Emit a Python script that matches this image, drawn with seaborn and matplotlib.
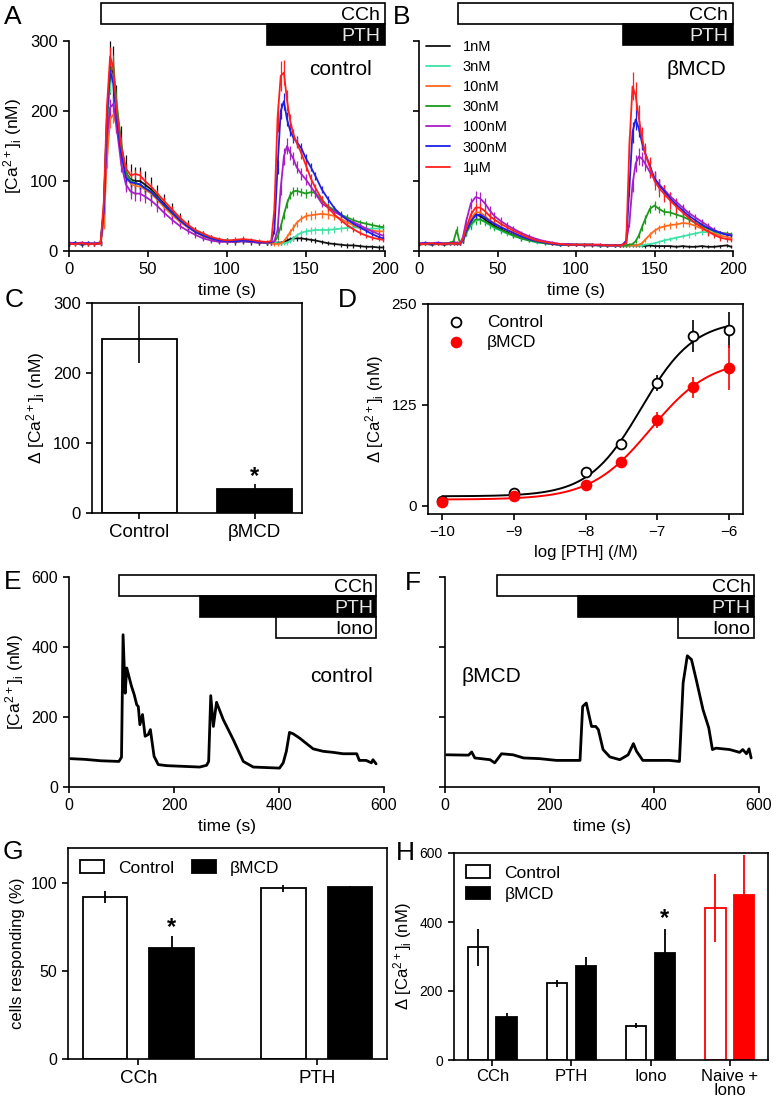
import numpy as np
import pandas as pd
import matplotlib
matplotlib.use('Agg')
import matplotlib.pyplot as plt
import matplotlib.transforms as mtransforms
from matplotlib.patches import Rectangle
import seaborn as sns

# ---------------- A / B : mean [Ca2+]i traces (nM) per PTH dose ----------------
time_ab = [0, 4, 8, 12, 16, 20, 22, 24,
           26, 28, 30, 33, 36, 39, 42, 45, 48, 52, 56, 60, 65, 70, 75, 80, 85, 90, 95, 100,
           105, 110, 115, 120, 125,
           128, 130, 132, 134, 136, 138, 140, 142, 144, 147, 150, 153, 156, 160, 164, 168, 172, 176, 180, 184, 188, 192, 196, 199]
doses = ['1nM', '3nM', '10nM', '30nM', '100nM', '300nM', '1µM']
dose_colors = ['#111111', '#3fe3a6', '#ff6a1f', '#1d9a1d', '#a81fc4', '#1f1fe6', '#ff1f1f']

# control (A)
a_1nM = [10, 11, 9, 10, 10, 12, 50, 170,
         262, 255, 205, 150, 112, 102, 100, 100, 95, 88, 78, 68, 56, 45, 36, 28, 22, 18, 15, 14,
         13, 14, 13, 12, 12,
         12, 12, 12, 12, 13, 15, 17, 18, 18, 18, 17, 16, 15, 13, 11, 10, 9, 8, 8, 7, 6, 6, 5, 5]
a_3nM = [11, 10, 11, 10, 11, 12, 55, 180,
         238, 248, 205, 150, 110, 100, 97, 95, 90, 84, 75, 65, 54, 44, 35, 28, 22, 18, 16, 15,
         14, 15, 14, 13, 12,
         12, 12, 11, 11, 11, 12, 14, 18, 22, 26, 28, 29, 30, 30, 30, 31, 32, 33, 34, 33, 32, 32, 32, 33]
a_10nM = [11, 10, 10, 11, 10, 10, 40, 130,
          188, 195, 180, 140, 108, 96, 93, 92, 88, 82, 73, 63, 52, 42, 34, 27, 21, 17, 15, 14,
          14, 15, 14, 13, 12,
          11, 10, 10, 11, 14, 20, 27, 33, 40, 46, 50, 51, 52, 53, 52, 50, 46, 41, 37, 33, 31, 29, 28, 28]
a_30nM = [10, 11, 10, 10, 11, 12, 60, 190,
          255, 268, 215, 155, 112, 100, 97, 95, 90, 85, 76, 66, 55, 45, 36, 28, 22, 18, 16, 15,
          14, 15, 14, 13, 12,
          12, 13, 20, 35, 52, 68, 80, 85, 86, 84, 82, 84, 83, 72, 64, 58, 52, 48, 44, 41, 39, 37, 35, 34]
a_100nM = [12, 11, 12, 11, 11, 12, 55, 160,
           205, 210, 180, 125, 95, 85, 82, 82, 78, 72, 64, 55, 45, 36, 29, 23, 18, 15, 13, 13,
           13, 14, 13, 12, 12,
           12, 14, 30, 90, 135, 150, 140, 132, 120, 110, 102, 92, 82, 68, 62, 56, 51, 45, 41, 37, 32, 28, 24, 22]
a_300nM = [10, 11, 10, 11, 10, 11, 60, 190,
           258, 240, 192, 140, 105, 98, 97, 95, 90, 84, 75, 66, 55, 44, 35, 27, 22, 18, 15, 14,
           14, 15, 14, 13, 12,
           13, 30, 120, 200, 214, 188, 172, 162, 156, 147, 132, 120, 107, 88, 74, 61, 52, 45, 39, 34, 29, 24, 20, 18]
a_1uM = [10, 10, 11, 10, 10, 11, 70, 205,
         278, 262, 205, 150, 118, 108, 110, 108, 100, 92, 82, 72, 60, 48, 38, 30, 25, 20, 17, 15,
         16, 17, 16, 14, 13,
         14, 60, 190, 250, 255, 215, 186, 167, 155, 140, 122, 104, 90, 74, 62, 52, 44, 37, 31, 26, 22, 19, 17, 16]

a_1nM_err = [3, 3, 3, 3, 3, 4, 15, 30,
             38, 38, 32, 28, 25, 22, 20, 20, 20, 18, 16, 14, 12, 10, 8, 7, 6, 5, 4, 4,
             4, 4, 4, 3, 3,
             3, 3, 3, 3, 3, 3, 3, 3, 3, 3, 3, 3, 3, 3, 3, 3, 3, 3, 3, 3, 3, 3, 3, 3]
a_3nM_err = [3, 3, 3, 3, 3, 3, 8, 12,
             12, 12, 10, 8, 6, 5, 5, 5, 5, 4, 4, 4, 3, 3, 3, 3, 3, 3, 3, 3,
             3, 3, 3, 3, 3,
             3, 3, 3, 3, 3, 3, 3, 3, 4, 4, 5, 5, 5, 5, 5, 5, 5, 5, 5, 4, 4, 4, 4, 4]
a_10nM_err = [3, 3, 3, 3, 3, 3, 8, 12,
              12, 12, 10, 8, 6, 5, 5, 5, 5, 4, 4, 4, 3, 3, 3, 3, 3, 3, 3, 3,
              3, 3, 3, 3, 3,
              3, 3, 3, 3, 3, 4, 4, 5, 5, 5, 6, 6, 6, 6, 6, 6, 5, 5, 5, 4, 4, 4, 4, 4]
a_30nM_err = [3, 3, 3, 3, 3, 3, 8, 12,
              12, 12, 10, 8, 6, 5, 5, 5, 5, 4, 4, 4, 3, 3, 3, 3, 3, 3, 3, 3,
              3, 3, 3, 3, 3,
              3, 3, 4, 5, 6, 6, 6, 6, 6, 6, 6, 6, 6, 6, 5, 5, 5, 5, 4, 4, 4, 4, 4, 4]
a_100nM_err = [3, 3, 3, 3, 3, 3, 8, 12,
               12, 12, 12, 12, 10, 10, 10, 10, 9, 8, 8, 7, 6, 5, 4, 4, 3, 3, 3, 3,
               3, 3, 3, 3, 3,
               3, 3, 6, 10, 12, 12, 10, 9, 9, 8, 8, 7, 6, 5, 5, 5, 4, 4, 4, 4, 4, 4, 4, 4]
a_300nM_err = [3, 3, 3, 3, 3, 3, 8, 12,
               12, 12, 10, 8, 6, 6, 6, 6, 5, 5, 5, 5, 4, 4, 4, 3, 3, 3, 3, 3,
               3, 3, 3, 3, 3,
               3, 5, 10, 12, 12, 10, 8, 8, 8, 8, 7, 6, 6, 5, 5, 4, 4, 4, 4, 3, 3, 3, 3, 3]
a_1uM_err = [3, 3, 3, 3, 3, 3, 10, 14,
             14, 14, 12, 8, 6, 6, 6, 6, 6, 5, 5, 5, 4, 4, 4, 3, 3, 3, 3, 3,
             4, 4, 3, 3, 3,
             3, 10, 20, 22, 18, 15, 10, 8, 8, 8, 7, 6, 6, 5, 5, 4, 4, 4, 4, 3, 3, 3, 3, 3]

# beta-methyl-cyclodextrin (B)
b_1nM = [9, 10, 9, 10, 9, 10, 10, 10,
         10, 15, 28, 42, 52, 50, 45, 40, 36, 31, 27, 23, 19, 16, 13, 12, 10, 9, 9, 9,
         8, 8, 8, 8, 8,
         8, 8, 8, 8, 8, 8, 8, 8, 7, 8, 7, 7, 7, 7, 6, 7, 6, 6, 7, 6, 6, 7, 8, 6]
b_3nM = [11, 10, 11, 10, 11, 10, 11, 11,
         10, 14, 25, 36, 43, 45, 41, 37, 33, 29, 25, 22, 18, 15, 12, 11, 10, 9, 9, 9,
         9, 9, 8, 8, 8,
         8, 8, 8, 8, 8, 8, 8, 8, 9, 10, 11, 13, 15, 17, 19, 21, 23, 25, 27, 27, 26, 25, 24, 23]
b_10nM = [10, 11, 10, 11, 10, 11, 10, 11,
          10, 16, 30, 46, 55, 55, 50, 44, 40, 35, 30, 26, 21, 17, 14, 12, 10, 9, 9, 9,
          9, 9, 8, 8, 8,
          8, 8, 8, 8, 8, 8, 9, 11, 16, 23, 29, 33, 35, 37, 38, 40, 39, 36, 32, 28, 25, 22, 20, 18]
b_30nM = [10, 11, 10, 10, 11, 12, 14, 30,
          12, 15, 26, 38, 45, 45, 42, 38, 34, 30, 26, 22, 18, 15, 13, 11, 10, 9, 9, 9,
          9, 9, 8, 8, 8,
          8, 8, 8, 9, 10, 14, 22, 34, 45, 60, 65, 60, 56, 55, 52, 49, 45, 40, 36, 32, 28, 26, 25, 24]
b_100nM = [11, 12, 11, 12, 11, 11, 12, 12,
           10, 20, 42, 68, 77, 75, 68, 58, 50, 43, 37, 32, 26, 21, 17, 14, 12, 10, 10, 9,
           9, 9, 9, 8, 8,
           8, 10, 14, 40, 95, 125, 135, 132, 125, 113, 103, 95, 88, 78, 70, 62, 54, 48, 42, 36, 30, 26, 24, 23]
b_300nM = [10, 11, 10, 11, 10, 11, 11, 11,
           10, 15, 28, 42, 51, 52, 48, 43, 39, 34, 30, 26, 21, 17, 14, 12, 10, 9, 9, 9,
           9, 9, 8, 8, 8,
           8, 9, 15, 90, 170, 188, 175, 155, 140, 122, 104, 94, 86, 75, 66, 58, 50, 44, 38, 33, 29, 26, 23, 22]
b_1uM = [10, 10, 11, 10, 10, 11, 11, 11,
         10, 17, 32, 52, 62, 62, 57, 50, 45, 39, 34, 29, 24, 19, 15, 13, 11, 10, 9, 9,
         9, 9, 9, 8, 8,
         8, 9, 12, 150, 235, 222, 190, 162, 140, 120, 100, 90, 82, 72, 63, 55, 47, 40, 34, 28, 23, 19, 17, 16]

b_1nM_err = [2, 2, 2, 2, 2, 2, 2, 2,
             2, 3, 4, 5, 5, 5, 4, 4, 4, 3, 3, 3, 3, 2, 2, 2, 2, 2, 2, 2,
             2, 2, 2, 2, 2,
             2, 2, 2, 2, 2, 2, 2, 2, 2, 2, 2, 2, 2, 2, 2, 2, 2, 2, 2, 2, 2, 2, 2, 2]
b_3nM_err = [2, 2, 2, 2, 2, 2, 2, 2,
             2, 3, 4, 6, 6, 6, 5, 5, 4, 4, 3, 3, 3, 2, 2, 2, 2, 2, 2, 2,
             2, 2, 2, 2, 2,
             2, 2, 2, 2, 2, 2, 2, 2, 2, 2, 2, 3, 3, 3, 3, 3, 4, 4, 4, 4, 4, 3, 3, 3]
b_10nM_err = [2, 2, 2, 2, 2, 2, 2, 2,
              2, 3, 4, 6, 6, 6, 5, 5, 4, 4, 3, 3, 3, 2, 2, 2, 2, 2, 2, 2,
              2, 2, 2, 2, 2,
              2, 2, 2, 2, 2, 2, 2, 3, 3, 4, 4, 4, 5, 5, 5, 5, 5, 5, 4, 4, 4, 3, 3, 3]
b_30nM_err = [2, 2, 2, 2, 2, 2, 2, 6,
              2, 3, 4, 6, 6, 6, 5, 5, 4, 4, 3, 3, 3, 2, 2, 2, 2, 2, 2, 2,
              2, 2, 2, 2, 2,
              2, 2, 2, 2, 2, 3, 4, 5, 6, 6, 6, 5, 5, 5, 5, 5, 4, 4, 4, 4, 3, 3, 3, 3]
b_100nM_err = [2, 2, 2, 2, 2, 2, 2, 2,
               2, 4, 6, 8, 9, 9, 8, 7, 6, 5, 5, 4, 3, 3, 2, 2, 2, 2, 2, 2,
               2, 2, 2, 2, 2,
               2, 2, 3, 6, 10, 12, 12, 10, 10, 9, 8, 8, 7, 6, 6, 5, 5, 5, 4, 4, 4, 3, 3, 3]
b_300nM_err = [2, 2, 2, 2, 2, 2, 2, 2,
               2, 3, 5, 6, 6, 6, 5, 5, 4, 4, 3, 3, 3, 2, 2, 2, 2, 2, 2, 2,
               2, 2, 2, 2, 2,
               2, 2, 4, 12, 15, 15, 12, 10, 10, 10, 10, 9, 9, 8, 7, 6, 6, 5, 5, 4, 4, 3, 3, 3]
b_1uM_err = [2, 2, 2, 2, 2, 2, 2, 2,
             2, 3, 5, 6, 6, 6, 5, 5, 4, 4, 3, 3, 3, 2, 2, 2, 2, 2, 2, 2,
             2, 2, 2, 2, 2,
             2, 2, 4, 15, 20, 20, 18, 15, 14, 14, 13, 13, 12, 12, 11, 10, 9, 8, 7, 6, 5, 4, 4, 3]

# treatment start times (s)
ab_end = 200
a_starts = [20, 125]
b_starts = [25, 130]

# ---------------- C : peak PTH response ----------------
c_groups = ['Control', 'βMCD']
c_vals = [249, 34]
c_err_lo = [34, 0]
c_err_hi = [47, 8]

# ---------------- D : concentration-response ----------------
log_pth = [-10, -9, -8, -7.5, -7, -6.5, -6]
d_ctrl = [6.6, 15.8, 42, 77, 152, 210, 218]
d_ctrl_err = [1, 2, 3, 3, 10, 20, 22]
d_mcd = [5.4, 12.5, 26, 54, 106, 147, 171]
d_mcd_err = [1, 2, 2, 3, 10, 13, 28]

# ---------------- E / F : single-cell traces ----------------
e_time = [3, 30, 60, 95, 100, 103, 107, 110, 119, 124, 129, 132, 135, 140, 145, 151, 155, 162, 170, 186,
          249, 262, 266, 270, 275, 281, 294, 313, 332, 351, 401, 408, 414, 420, 427, 439, 465, 484,
          503, 522, 548, 553, 566, 576, 579, 585]
e_ca = [81, 79, 75, 73, 85, 435, 268, 340, 288, 265, 235, 230, 178, 207, 145, 150, 164, 88, 64, 61,
        57, 62, 73, 261, 173, 242, 192, 135, 73, 57, 54, 69, 102, 156, 152, 140, 109, 102,
        99, 95, 95, 76, 76, 69, 78, 66]
f_time = [3, 45, 51, 57, 86, 95, 108, 130, 150, 181, 213, 258, 263, 270, 280, 288, 293, 302, 315, 334,
          350, 360, 366, 378, 404, 429, 448, 455, 463, 471, 480, 493, 504, 511, 518, 531, 544, 563,
          569, 576, 581, 585]
f_ca = [92, 91, 100, 83, 78, 69, 95, 92, 83, 81, 76, 76, 230, 240, 173, 173, 164, 107, 86, 78,
        92, 124, 102, 76, 76, 76, 73, 297, 375, 364, 307, 221, 169, 107, 111, 109, 107, 99,
        107, 95, 109, 83]
e_starts = [95, 250, 395]
e_end = 585
f_starts = [100, 255, 445]
f_end = 590

# ---------------- G / H : responding cells and amplitudes ----------------
g_stim = ['CCh', 'PTH']
g_ctrl = [92, 97]
g_ctrl_err = [3.5, 2]
g_mcd = [63, 98]
g_mcd_err = [7, 0.5]

h_stim = ['CCh', 'PTH', 'Iono', 'Naive +\nIono']
h_ctrl = [327, 223, 100, 440]
h_ctrl_err = [54, 10, 8, 99]
h_mcd = [125, 273, 311, 479]
h_mcd_err = [10, 27, 70, 116]

# ---------------- style ----------------
sns.set_theme(style='ticks')
plt.rcParams['font.family'] = ['Liberation Sans', 'DejaVu Sans']
plt.rcParams.update({
    'mathtext.default': 'regular',
    'axes.linewidth': 1.2, 'axes.edgecolor': 'black', 'axes.labelcolor': 'black',
    'xtick.color': 'black', 'ytick.color': 'black', 'text.color': 'black',
    'xtick.major.width': 1.2, 'ytick.major.width': 1.2,
    'xtick.major.size': 4.5, 'ytick.major.size': 4.5,
    'xtick.labelsize': 12, 'ytick.labelsize': 12, 'axes.labelsize': 12.5,
})

W, H = 776, 1099
fig = plt.figure(figsize=(W / 100, H / 100), dpi=100)


def px_axes(left, top, right, bottom):
    return fig.add_axes([left / W, 1 - bottom / H, (right - left) / W, (bottom - top) / H])


def treatment_bars(ax, starts, end, labels, y_top, h, pad):
    trans = mtransforms.blended_transform_factory(ax.transData, ax.transAxes)
    fills = ['white', 'black', 'white']
    txt = ['black', '#e6e6e6', 'black']
    for i, (s, lab) in enumerate(zip(starts, labels)):
        top = y_top - i * h
        ax.add_patch(Rectangle((s, top - h), end - s, h, transform=trans, facecolor=fills[i],
                               edgecolor='black', lw=1.2, clip_on=False, zorder=5))
        ax.text(end - pad, top - h / 2, lab, transform=trans, ha='right', va='center_baseline',
                color=txt[i], fontsize=14, zorder=6)


def plot_traces(ax, series, errs, legend):
    df = pd.DataFrame({'time': np.tile(time_ab, len(doses)),
                       'ca': np.concatenate(series),
                       'dose': np.repeat(doses, len(time_ab))})
    for vals, err, col in zip(series, errs, dose_colors):
        ax.errorbar(time_ab, vals, yerr=err, fmt='none', ecolor=col, elinewidth=0.9, capsize=0, zorder=1)
    sns.lineplot(data=df, x='time', y='ca', hue='dose', hue_order=doses, palette=dose_colors,
                 estimator=None, lw=1.3, ax=ax, legend=legend, zorder=2)
    ax.set_xlim(0, 200)
    ax.set_ylim(0, 300)
    ax.set_xticks([0, 50, 100, 150, 200])
    ax.set_yticks([0, 100, 200, 300])
    ax.set_xlabel('time (s)')
    sns.despine(ax=ax)


def blend(ax):
    return mtransforms.blended_transform_factory(ax.transData, ax.transAxes)


ca_label = r'[Ca$^{2+}$]$_{i}$ (nM)'
dca_label = r'Δ [Ca$^{2+}$]$_{i}$ (nM)'

# ---- A ----
ax_a = px_axes(69, 41, 385, 251)
plot_traces(ax_a, [a_1nM, a_3nM, a_10nM, a_30nM, a_100nM, a_300nM, a_1uM],
            [a_1nM_err, a_3nM_err, a_10nM_err, a_30nM_err, a_100nM_err, a_300nM_err, a_1uM_err], False)
ax_a.set_ylabel(ca_label)
treatment_bars(ax_a, a_starts, ab_end, ['CCh', 'PTH'], 1.181, 0.1, 3)
ax_a.text(192, 0.862, 'control', transform=blend(ax_a), ha='right', va='center', fontsize=15)

# ---- B ----
ax_b = px_axes(419, 41, 733, 251)
plot_traces(ax_b, [b_1nM, b_3nM, b_10nM, b_30nM, b_100nM, b_300nM, b_1uM],
            [b_1nM_err, b_3nM_err, b_10nM_err, b_30nM_err, b_100nM_err, b_300nM_err, b_1uM_err], True)
ax_b.set_ylabel('')
ax_b.set_yticklabels([])
handles, labels = ax_b.get_legend_handles_labels()
ax_b.legend(handles, labels, loc='upper left', bbox_to_anchor=(0.0, 1.04), frameon=False,
            fontsize=10.5, handlelength=1.6, labelspacing=0.42, handletextpad=0.9,
            borderaxespad=0.3, borderpad=0.2)
treatment_bars(ax_b, b_starts, ab_end, ['CCh', 'PTH'], 1.181, 0.1, 3)
ax_b.text(196, 0.862, 'βMCD', transform=blend(ax_b), ha='right', va='center', fontsize=15)

# ---- C ----
ax_c = px_axes(92, 303, 302, 513)
sns.barplot(x=c_groups, y=c_vals, hue=c_groups, palette=['white', 'black'], edgecolor='black',
            linewidth=1.3, width=0.66, legend=False, ax=ax_c)
c_x = [p.get_x() + p.get_width() / 2 for p in ax_c.patches]
ax_c.errorbar(c_x, c_vals, yerr=[c_err_lo, c_err_hi], fmt='none', ecolor='black', elinewidth=1.2, capsize=0)
ax_c.text(c_x[1], c_vals[1] + c_err_hi[1] + 10, '*', ha='center', va='center', fontsize=17, fontweight='bold')
ax_c.set_ylim(0, 300)
ax_c.set_yticks([0, 100, 200, 300])
ax_c.set_ylabel(dca_label)
ax_c.tick_params(axis='x', labelsize=13.5)


# ---- D ----
def hill_fit(x, y):
    x = np.asarray(x, float)
    y = np.asarray(y, float)
    best = (np.inf, None)
    for ec in np.arange(-8.5, -6.0, 0.01):
        for h in np.arange(0.5, 2.01, 0.02):
            f = 1 / (1 + 10 ** ((ec - x) * h))
            A = np.column_stack([np.ones_like(f), f])
            coef = np.linalg.lstsq(A, y, rcond=None)[0]
            sse = np.sum((A @ coef - y) ** 2)
            if sse < best[0]:
                best = (sse, (coef[0], coef[1], ec, h))
    return best[1]


ax_d = px_axes(428, 304, 743, 514)
x_fit = np.linspace(-10, -6, 200)
for vals, err, col, face, lab in [(d_ctrl, d_ctrl_err, 'black', 'white', 'Control'),
                                  (d_mcd, d_mcd_err, 'red', 'red', 'βMCD')]:
    b0, span, ec, h = hill_fit(log_pth, vals)
    y_fit = b0 + span / (1 + 10 ** ((ec - x_fit) * h))
    sns.lineplot(x=x_fit, y=y_fit, color=col, lw=1.4, ax=ax_d, zorder=2)
    ax_d.errorbar(log_pth, vals, yerr=err, fmt='none', ecolor=col, elinewidth=1.2, capsize=0, zorder=3)
    sns.scatterplot(x=log_pth, y=vals, color=face, edgecolor=col, linewidth=1.3, s=50,
                    ax=ax_d, zorder=4, label=lab)
ax_d.set_xlim(-10.2, -5.8)
ax_d.set_ylim(-10, 250)
ax_d.set_xticks([-10, -9, -8, -7, -6])
ax_d.set_yticks([0, 125, 250])
ax_d.tick_params(labelsize=11)
ax_d.set_xlabel('log [PTH] (/M)', fontsize=12)
ax_d.set_ylabel(dca_label, fontsize=12)
dh, dl = ax_d.get_legend_handles_labels()
ax_d.legend(dh, dl, loc='upper left', frameon=False, fontsize=12.5, handletextpad=0.8,
            borderaxespad=0.2, labelspacing=0.3)

# ---- E ----
ax_e = px_axes(69, 577, 384, 787)
sns.lineplot(x=e_time, y=e_ca, color='black', lw=2.0, estimator=None, ax=ax_e)
ax_e.set_xlim(0, 600)
ax_e.set_ylim(0, 600)
ax_e.set_xticks([0, 200, 400, 600])
ax_e.set_yticks([0, 200, 400, 600])
ax_e.tick_params(labelsize=11.5)
ax_e.set_xlabel('time (s)')
ax_e.set_ylabel(ca_label)
sns.despine(ax=ax_e)
treatment_bars(ax_e, e_starts, e_end, ['CCh', 'PTH', 'Iono'], 1.01, 0.1, 6)
ax_e.text(579, 0.524, 'control', transform=blend(ax_e), ha='right', va='center', fontsize=15)

# ---- F ----
ax_f = px_axes(445, 577, 759, 787)
sns.lineplot(x=f_time, y=f_ca, color='black', lw=2.0, estimator=None, ax=ax_f)
ax_f.set_xlim(0, 600)
ax_f.set_ylim(0, 600)
ax_f.set_xticks([0, 200, 400, 600])
ax_f.set_yticks([0, 200, 400, 600])
ax_f.set_yticklabels([])
ax_f.tick_params(labelsize=11.5)
ax_f.set_xlabel('time (s)')
sns.despine(ax=ax_f)
treatment_bars(ax_f, f_starts, f_end, ['CCh', 'PTH', 'Iono'], 1.01, 0.1, 6)
ax_f.text(32, 0.524, 'βMCD', transform=blend(ax_f), ha='left', va='center', fontsize=15)


# ---- G ----
def grouped_bars(ax, stims, ctrl, mcd, width, gap):
    df = pd.DataFrame({'stim': stims * 2, 'val': ctrl + mcd,
                       'group': ['Control'] * len(stims) + ['βMCD'] * len(stims)})
    sns.barplot(data=df, x='stim', y='val', hue='group', palette=['white', 'black'],
                edgecolor='black', linewidth=1.3, width=width, gap=gap, ax=ax)
    return ax.containers[0], ax.containers[1]


ax_g = px_axes(68, 848, 387, 1059)
g_c, g_m = grouped_bars(ax_g, g_stim, g_ctrl, g_mcd, 0.75, 0.333)
for cont, vals, errs in [(g_c, g_ctrl, g_ctrl_err), (g_m, g_mcd, g_mcd_err)]:
    xs = [p.get_x() + p.get_width() / 2 for p in cont]
    ax_g.errorbar(xs, vals, yerr=errs, fmt='none', ecolor='black', elinewidth=1.3, capsize=0)
xs_m = [p.get_x() + p.get_width() / 2 for p in g_m]
ax_g.text(xs_m[0], g_mcd[0] + g_mcd_err[0] + 5, '*', ha='center', va='center', fontsize=17, fontweight='bold')
ax_g.set_ylim(0, 120)
ax_g.set_yticks([0, 50, 100])
ax_g.tick_params(axis='y', labelsize=11.5)
ax_g.tick_params(axis='x', labelsize=13.5)
ax_g.set_xlabel('')
ax_g.set_ylabel('cells responding (%)', fontsize=12)
gh, gl = ax_g.get_legend_handles_labels()
ax_g.legend(gh, gl, loc='upper left', ncol=2, frameon=False, fontsize=12.5, handlelength=1.4,
            handleheight=0.75, handletextpad=0.8, columnspacing=1.0, borderaxespad=0.3)

# ---- H ----
ax_h = px_axes(454, 853, 768, 1060)
h_c, h_m = grouped_bars(ax_h, h_stim, h_ctrl, h_mcd, 0.714, 0.286)
h_c[3].set_edgecolor('red')
h_m[3].set_facecolor('red')
h_m[3].set_edgecolor('red')
for cont, vals, errs in [(h_c, h_ctrl, h_ctrl_err), (h_m, h_mcd, h_mcd_err)]:
    for i, p in enumerate(cont):
        col = 'red' if i == 3 else 'black'
        ax_h.errorbar(p.get_x() + p.get_width() / 2, vals[i], yerr=errs[i], fmt='none',
                      ecolor=col, elinewidth=1.3, capsize=0)
xs_h = [p.get_x() + p.get_width() / 2 for p in h_m]
ax_h.text(xs_h[2], h_mcd[2] + h_mcd_err[2] + 30, '*', ha='center', va='center', fontsize=17, fontweight='bold')
ax_h.set_ylim(0, 600)
ax_h.set_yticks([0, 200, 400, 600])
ax_h.tick_params(axis='y', labelsize=10)
ax_h.tick_params(axis='x', labelsize=12, pad=2)
for lab in ax_h.get_xticklabels():
    lab.set_linespacing(0.95)
ax_h.set_xlabel('')
ax_h.set_ylabel(dca_label, fontsize=12)
hh, hl = ax_h.get_legend_handles_labels()
ax_h.legend(hh, hl, loc='upper left', frameon=False, fontsize=12.5, handlelength=1.4,
            handleheight=0.75, handletextpad=0.8, borderaxespad=0.3, labelspacing=0.35)

# ---- panel letters ----
for letter, x, y in [('A', 13, 17), ('B', 402, 17), ('C', 14, 300), ('D', 347, 300),
                     ('E', 13, 582), ('F', 413, 583), ('G', 13, 852), ('H', 405, 853)]:
    fig.text(x / W, 1 - y / H, letter, ha='center', va='center', fontsize=19)

fig.savefig('out.png', dpi=100)
